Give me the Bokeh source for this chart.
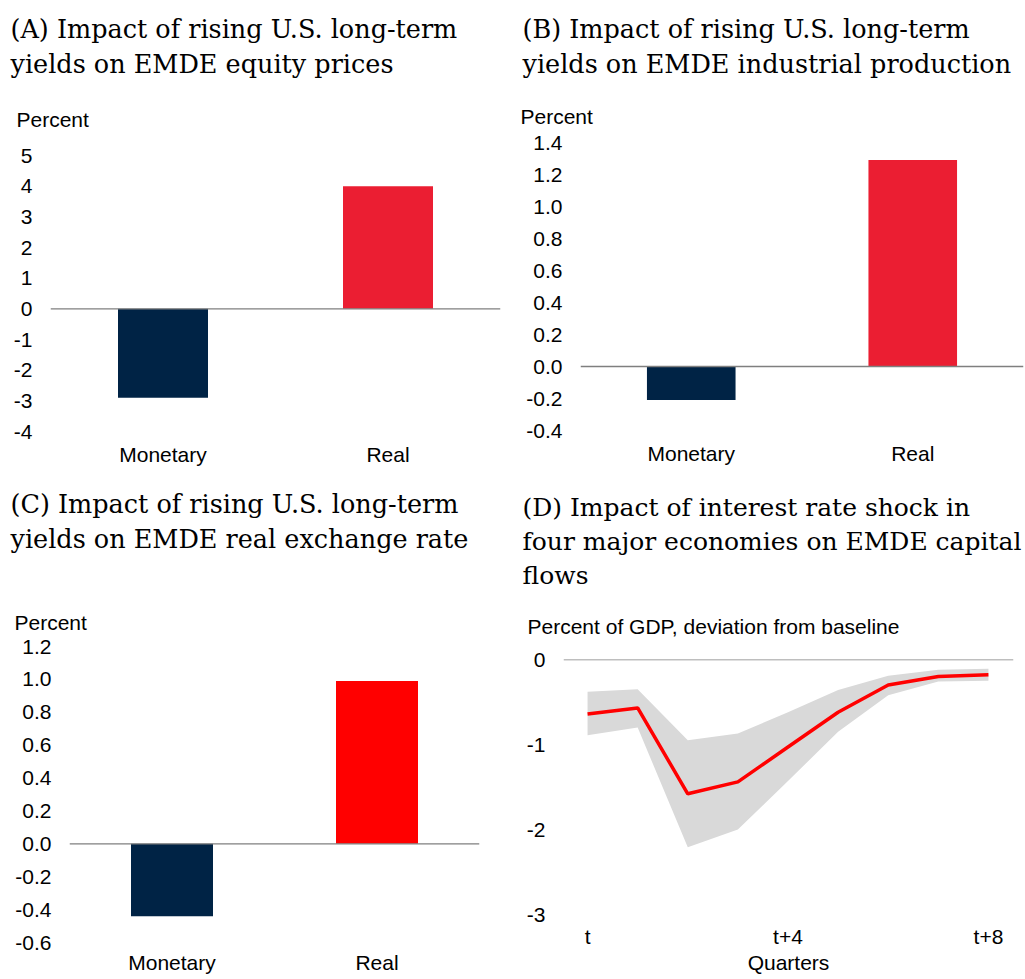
from bokeh.plotting import figure
from bokeh.models import Range1d, FactorRange, Span, Title, FixedTicker, NumeralTickFormatter
from bokeh.layouts import column, row
from bokeh.embed import file_html
from bokeh.resources import INLINE

# ---------------- data ----------------
shock_types = ["Monetary", "Real"]

equity_values = [-2.9, 4.0]
equity_ticks = [-4, -3, -2, -1, 0, 1, 2, 3, 4, 5]

ip_values = [-0.21, 1.29]
ip_ticks = [-0.4, -0.2, 0.0, 0.2, 0.4, 0.6, 0.8, 1.0, 1.2, 1.4]

rer_values = [-0.44, 0.99]
rer_ticks = [-0.6, -0.4, -0.2, 0.0, 0.2, 0.4, 0.6, 0.8, 1.0, 1.2]

quarters = [0, 1, 2, 3, 4, 5, 6, 7, 8]
flows_median = [-0.64, -0.57, -1.58, -1.44, -1.03, -0.62, -0.30, -0.20, -0.18]
flows_upper = [-0.38, -0.35, -0.95, -0.87, -0.62, -0.36, -0.19, -0.12, -0.11]
flows_lower = [-0.89, -0.80, -2.21, -2.00, -1.43, -0.85, -0.42, -0.26, -0.25]
quarter_ticks = [0, 4, 8]
quarter_labels = ["t", "t+4", "t+8"]
flows_ticks = [-3, -2, -1, 0]

NAVY = "#002345"
RED_AB = "#EB1E32"
RED_C = "#FF0000"
TITLE_FONT = "DejaVu Serif"
SANS = "Liberation Sans"
LBL = "21px"


def add_titles(p, lines, unit, unit_standoff, spacer, offset, unit_offset, tsize="25.5px"):
    # stacked outward from the frame: unit label, optional spacer, then title lines bottom-up
    p.add_layout(Title(text=unit, align="left", offset=unit_offset, text_font=SANS,
                       text_font_size=LBL, text_font_style="normal", text_color="black",
                       standoff=unit_standoff), "above")
    if spacer > 0:
        p.add_layout(Title(text=" ", text_font_size="1px", standoff=spacer), "above")
    for ln in reversed(lines):
        p.add_layout(Title(text=ln, align="left", offset=offset, text_font=TITLE_FONT,
                           text_font_size=tsize, text_font_style="normal",
                           text_color="black", standoff=3), "above")


def style(p):
    p.toolbar_location = None
    p.outline_line_color = None
    p.xgrid.grid_line_color = None
    p.ygrid.grid_line_color = None
    p.background_fill_color = "white"
    p.border_fill_color = "white"
    for ax in (p.xaxis[0], p.yaxis[0]):
        ax.axis_line_color = None
        ax.major_tick_line_color = None
        ax.minor_tick_line_color = None
        ax.major_tick_in = 0
        ax.major_tick_out = 0
        ax.major_label_text_font = SANS
        ax.major_label_text_font_size = LBL
        ax.major_label_text_color = "black"
    p.yaxis[0].major_label_standoff = 18
    p.add_layout(Span(location=0, dimension="width", line_color="#7F7F7F", line_width=1.3))


def bar_panel(lines, unit_standoff, spacer, values, color_real, ylo, yhi, ticks, fmt,
              w, h, bl, br, bt, bb, offset, unit_offset, xstand):
    p = figure(x_range=FactorRange(*shock_types, range_padding=0.0, factor_padding=0.0),
               y_range=Range1d(ylo, yhi), width=w, height=h,
               min_border_left=bl, min_border_right=br, min_border_top=bt, min_border_bottom=bb,
               output_backend="svg", toolbar_location=None, title=None)
    p.vbar(x=shock_types, top=values, width=0.4, color=[NAVY, color_real], line_color=None)
    style(p)
    p.xaxis[0].major_label_standoff = xstand
    p.yaxis[0].ticker = FixedTicker(ticks=ticks)
    p.yaxis[0].formatter = NumeralTickFormatter(format=fmt)
    add_titles(p, lines, "Percent", unit_standoff, spacer, offset, unit_offset)
    return p


pA = bar_panel(["(A) Impact of rising U.S. long-term", "yields on EMDE equity prices"], 50, 0,
               equity_values, RED_AB, -4, 5, equity_ticks, "0",
               512, 478, 50, 12, 155, 47, -40, -34, 11)
pB = bar_panel(["(B) Impact of rising U.S. long-term", "yields on EMDE industrial production"], 29, 5,
               ip_values, RED_AB, -0.4, 1.4, ip_ticks, "0.0",
               513, 478, 68, 2, 142, 48, -58, -60, 11)
pC = bar_panel(["(C) Impact of rising U.S. long-term", "yields on EMDE real exchange rate"], 25, 38,
               rer_values, RED_C, -0.6, 1.2, rer_ticks, "0.0",
               512, 501, 69, 33, 168, 37, -59, -55, 8)

# panel D
pD = figure(x_range=Range1d(-0.48, 8.5), y_range=Range1d(-3, 0), width=513, height=501,
            min_border_left=51, min_border_right=12, min_border_top=181, min_border_bottom=65,
            output_backend="svg", toolbar_location=None, title=None)
pD.varea(x=quarters, y1=flows_lower, y2=flows_upper, fill_color="#D9D9D9")
pD.line(x=quarters, y=flows_median, line_color=RED_C, line_width=3.5)
style(pD)
pD.yaxis[0].ticker = FixedTicker(ticks=flows_ticks)
pD.yaxis[0].formatter = NumeralTickFormatter(format="0")
pD.xaxis[0].ticker = FixedTicker(ticks=quarter_ticks)
pD.xaxis[0].major_label_overrides = {t: l for t, l in zip(quarter_ticks, quarter_labels)}
pD.xaxis[0].major_label_standoff = 10
pD.xaxis[0].axis_label = "Quarters"
pD.xaxis[0].axis_label_standoff = 0
pD.xaxis[0].axis_label_text_font = SANS
pD.xaxis[0].axis_label_text_font_size = LBL
pD.xaxis[0].axis_label_text_font_style = "normal"
pD.xaxis[0].axis_label_text_color = "black"
add_titles(pD, ["(D) Impact of interest rate shock in", "four major economies on EMDE capital", "flows"],
           "Percent of GDP, deviation from baseline", 43, 0, -41, -36, tsize="25px")

layout = column(row(column(pA), column(pB)), row(column(pC), column(pD)))
open("out.html", "w").write(file_html(layout, INLINE))
